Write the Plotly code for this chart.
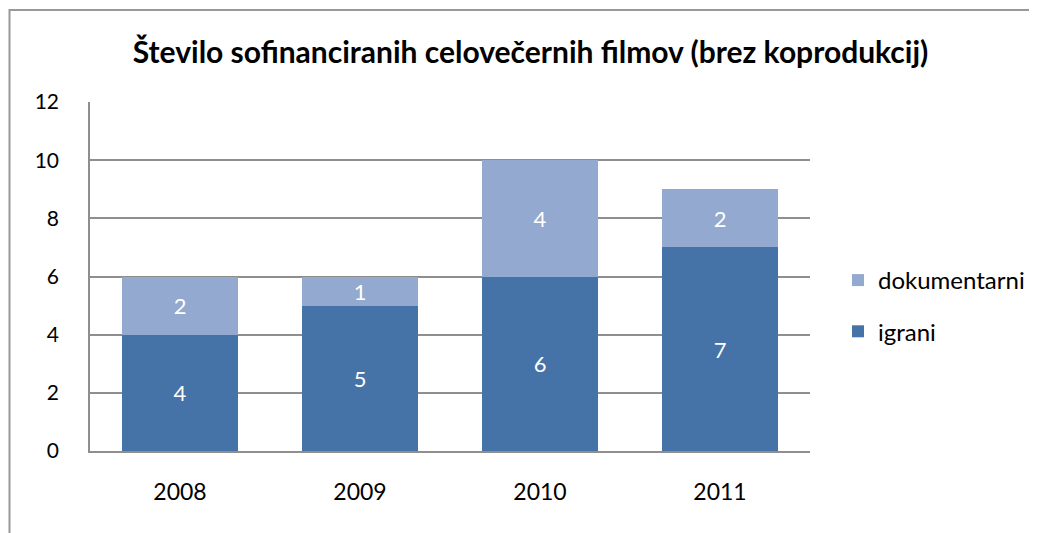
import plotly.graph_objects as go

years = ["2008", "2009", "2010", "2011"]
igrani = [4, 5, 6, 7]
dokumentarni = [2, 1, 4, 2]
title = "Število sofinanciranih celovečernih filmov (brez koprodukcij)"
y_ticks = [0, 2, 4, 6, 8, 10, 12]

FONT = "Lato"
GRID = "#8E8E8E"
fig = go.Figure()
fig.add_trace(go.Bar(
    x=years, y=igrani, name="igrani", legendgroup="a", legendrank=2,
    marker=dict(color="#4573A7", line=dict(width=0)),
    text=[str(v) for v in igrani], textposition="inside", insidetextanchor="middle",
    textangle=0, constraintext="none",
    textfont=dict(color="white", size=22, family=FONT),
))
fig.add_trace(go.Bar(
    x=years, y=dokumentarni, name="dokumentarni", legendgroup="b", legendrank=1,
    marker=dict(color="#93A9CF", line=dict(width=0)),
    text=[str(v) for v in dokumentarni], textposition="inside", insidetextanchor="middle",
    textangle=0, constraintext="none",
    textfont=dict(color="white", size=22, family=FONT),
))

L, T, R, B = 82, 94, 227, 82
W, H = 1029, 525
pw, ph = W - L - R, H - T - B

fig.update_layout(
    barmode="stack",
    bargap=0.356,
    width=W, height=H,
    margin=dict(l=L, r=R, t=T, b=B, autoexpand=False),
    paper_bgcolor="white", plot_bgcolor="white",
    font=dict(family=FONT, size=21, color="black"),
    title=dict(text="<b>" + title + "</b>", x=522.5 / W, xanchor="center",
               y=1 - 44 / H, yanchor="middle",
               font=dict(size=30, family=FONT, color="black")),
    legend=dict(x=(830 - L) / pw, xanchor="left", y=(H - B - 298) / ph, yanchor="middle",
                traceorder="grouped", tracegroupgap=17,
                font=dict(size=24, family=FONT), itemwidth=30),
    uniformtext=dict(minsize=10, mode="show"),
    shapes=[dict(type="rect", xref="paper", yref="paper",
                 x0=(1.5 - L) / pw, x1=1.6, y0=-1, y1=(H - B - 2) / ph,
                 line=dict(color="#999999", width=2), fillcolor="rgba(0,0,0,0)", layer="below")],
)
fig.update_yaxes(range=[0, 12], tickvals=y_ticks, showgrid=True, gridcolor=GRID, gridwidth=1.6,
                 showline=True, linecolor=GRID, linewidth=1.6, ticks="",
                 zeroline=False, ticklabelstandoff=25,
                 tickfont=dict(size=21, family=FONT))
fig.update_xaxes(showline=True, linecolor=GRID, linewidth=1.6, ticks="", showgrid=False,
                 tickfont=dict(size=23, family=FONT), ticklabelstandoff=20)

fig.write_html("out.html")
